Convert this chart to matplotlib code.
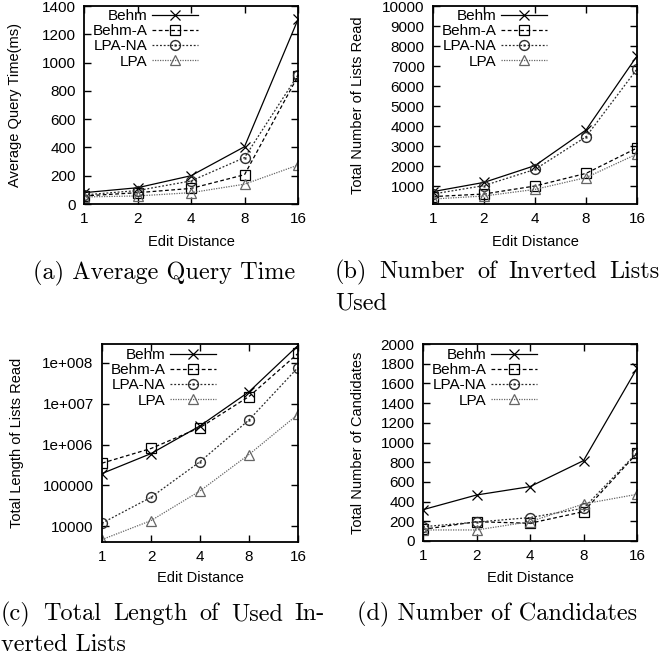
import matplotlib
matplotlib.use("Agg")
import matplotlib.pyplot as plt
from matplotlib.ticker import FixedLocator, FixedFormatter, NullLocator

plt.rcParams['font.family'] = ['Liberation Sans', 'DejaVu Sans']

# ---------------- data ----------------
edit_distance = [1, 2, 4, 8, 16]
x_tick_labels = ['1', '2', '4', '8', '16']
series_names = ['Behm', 'Behm-A', 'LPA-NA', 'LPA']

# (a) Average Query Time (ms)
time_behm = [80, 115, 200, 405, 1305]
time_behm_a = [57, 80, 110, 207, 905]
time_lpa_na = [64, 95, 163, 328, 913]
time_lpa = [50, 57, 80, 140, 275]

# (b) Total Number of Lists Read
lists_behm = [720, 1180, 2020, 3800, 7500]
lists_behm_a = [470, 600, 1000, 1630, 2900]
lists_lpa_na = [600, 1020, 1830, 3460, 6850]
lists_lpa = [350, 500, 830, 1420, 2600]

# (c) Total Length of Lists Read
len_behm = [1.95e5, 6.0e5, 2.86e6, 1.96e7, 2.67e8]
len_behm_a = [3.5e5, 8.0e5, 2.6e6, 1.5e7, 1.7e8]
len_lpa_na = [1.19e4, 5.1e4, 3.8e5, 4.0e6, 7.7e7]
len_lpa = [4.7e3, 1.37e4, 7.3e4, 5.7e5, 5.5e6]

# (d) Total Number of Candidates
cand_behm = [318, 467, 552, 816, 1753]
cand_behm_a = [118, 196, 180, 298, 890]
cand_lpa_na = [145, 192, 238, 332, 897]
cand_lpa = [112, 112, 196, 376, 474]

ticks_a = [0, 200, 400, 600, 800, 1000, 1200, 1400]
ticks_b = [1000, 2000, 3000, 4000, 5000, 6000, 7000, 8000, 9000, 10000]
ticks_c = [1e4, 1e5, 1e6, 1e7, 1e8]
tick_labels_c = ['10000', '100000', '1e+006', '1e+007', '1e+008']
ticks_d = [0, 200, 400, 600, 800, 1000, 1200, 1400, 1600, 1800, 2000]

ylabels = ['Average Query Time(ms)', 'Total Number of Lists Read',
           'Total Length of Lists Read', 'Total Number of Candidates']
xlabel = 'Edit Distance'

# ---------------- figure ----------------
W, H = 665, 656
fig = plt.figure(figsize=(W / 100, H / 100), dpi=100)

def rect(l, r, t, b):
    return [l / W, 1 - b / H, (r - l) / W, (b - t) / H]

styles = [
    dict(color='black', ls='-', marker='x', ms=7, mfc='none', mew=0.9, lw=0.9),
    dict(color='black', ls=(0, (3, 2)), marker='s', ms=7, mfc='none', mew=0.9, lw=0.9),
    dict(color='#2a2a2a', ls=(0, (1.5, 1.5)), marker=r'$\odot$', ms=8, mew=0.1, lw=0.9),
    dict(color='#666666', ls=(0, (1, 1)), marker='^', ms=7, mfc='none', mew=0.9, lw=0.9),
]

panels = [
    dict(box=(84, 298, 6, 204), data=[time_behm, time_behm_a, time_lpa_na, time_lpa],
         ylim=(0, 1400), yticks=ticks_a, ylab_x=15, leg_x=198, leg_top=9, log=False),
    dict(box=(433, 637, 6, 204), data=[lists_behm, lists_behm_a, lists_lpa_na, lists_lpa],
         ylim=(100, 10000), yticks=ticks_b, ylab_x=358, leg_x=547, leg_top=9, log=False),
    dict(box=(102, 298, 344, 542), data=[len_behm, len_behm_a, len_lpa_na, len_lpa],
         ylim=(4100, 2.9e8), yticks=ticks_c, ylab_x=17, leg_x=216, leg_top=348, log=True),
    dict(box=(423, 637, 344, 541), data=[cand_behm, cand_behm_a, cand_lpa_na, cand_lpa],
         ylim=(0, 2000), yticks=ticks_d, ylab_x=358, leg_x=537, leg_top=348, log=False),
]

for i, p in enumerate(panels):
    l, r, t, b = p['box']
    ax = fig.add_axes(rect(l, r, t, b))
    for name, vals, st in zip(series_names, p['data'], styles):
        ax.plot(edit_distance, vals, label=name, **st)
    ax.set_xscale('log', base=2)
    ax.set_xlim(1, 16)
    ax.xaxis.set_major_locator(FixedLocator(edit_distance))
    ax.xaxis.set_major_formatter(FixedFormatter(x_tick_labels))
    ax.xaxis.set_minor_locator(NullLocator())
    if p['log']:
        ax.set_yscale('log')
        ax.yaxis.set_major_locator(FixedLocator(ticks_c))
        ax.yaxis.set_major_formatter(FixedFormatter(tick_labels_c))
        ax.yaxis.set_minor_locator(NullLocator())
    else:
        ax.set_yticks(p['yticks'])
    ax.set_ylim(*p['ylim'])
    ax.tick_params(direction='in', top=True, right=True, length=5, width=1.0,
                   labelsize=11, pad=6)
    for s in ax.spines.values():
        s.set_linewidth(1.3)
    # labels
    ax.set_xlabel(xlabel, fontsize=10.5)
    ax.set_ylabel(ylabels[i], fontsize=10.5)
    ax.xaxis.set_label_coords(0.5, (b - (242 if t < 100 else 578)) / (b - t))
    ax.xaxis.label.set_va('center')
    ax.yaxis.set_label_coords((p['ylab_x'] - l) / (r - l), 0.5)
    ax.yaxis.label.set_va('center')
    # legend
    ax.legend(loc='upper right',
              bbox_to_anchor=((p['leg_x'] - l) / (r - l), (b - p['leg_top']) / (b - t)),
              frameon=False, markerfirst=False, fontsize=11, handlelength=3.0,
              handletextpad=0.3, labelspacing=0.08, borderpad=0, borderaxespad=0)

# ---------------- captions ----------------
cap_font = dict(family=['cmr10', 'DejaVu Serif'], fontsize=17.5)
renderer = fig.canvas.get_renderer()

def justified(words, x0, x1, y):
    ts = [fig.text(0, 1 - y / H, w, va='center', ha='left', **cap_font) for w in words]
    widths = [t.get_window_extent(renderer).width for t in ts]
    gap = (x1 - x0 - sum(widths)) / (len(words) - 1)
    x = x0
    for t, w in zip(ts, widths):
        t.set_x(x / W)
        x += w + gap

def plain(text, x, y, ha='left'):
    fig.text(x / W, 1 - y / H, text, va='center', ha=ha, **cap_font)

plain('(a) Average Query Time', 164, 273, ha='center')
justified(['(b)', 'Number', 'of', 'Inverted', 'Lists'], 335, 660, 272)
plain('Used', 335, 303)
justified(['(c)', 'Total', 'Length', 'of', 'Used', 'In-'], 1, 325, 614)
plain('verted Lists', 1, 645)
plain('(d) Number of Candidates', 497, 614, ha='center')

fig.savefig('out.png', dpi=100)
